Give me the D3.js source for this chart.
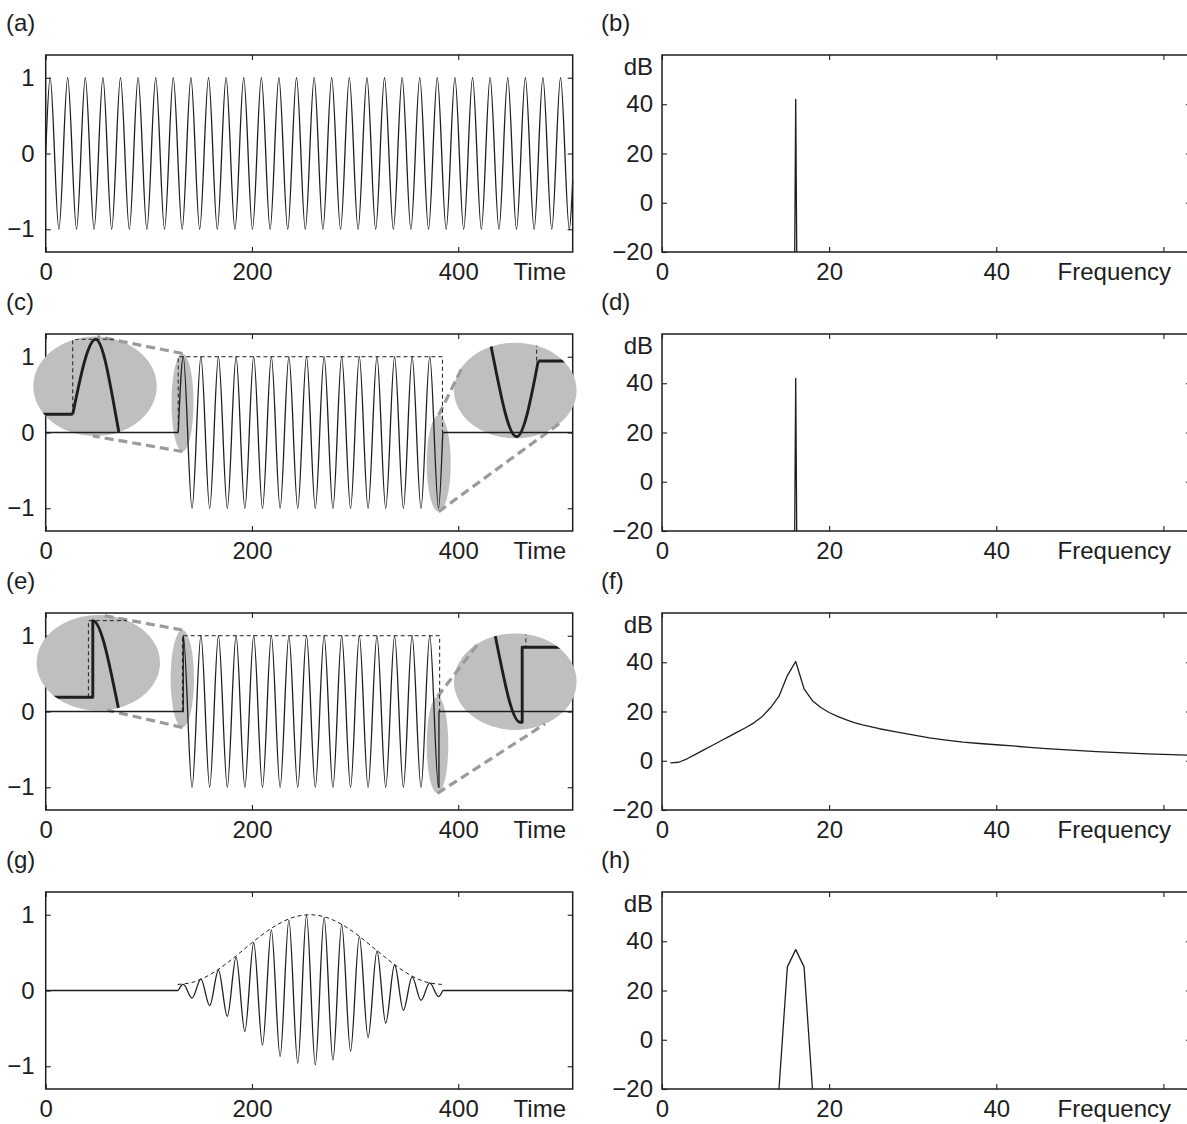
<!DOCTYPE html>
<html>
<head>
<meta charset="utf-8">
<script src="https://cdn.jsdelivr.net/npm/d3@7"></script>
<style>
  html, body { margin: 0; padding: 0; background: #fff; }
  svg { display: block; }
</style>
</head>
<body>
<svg id="fig" width="1187" height="1124"></svg>
<script>
// ---------- tick values and labels ----------
const timeTicks = [0, 200, 400];
const ampTicks = [-1, 0, 1];
const freqTicks = [0, 20, 40, 60];
const freqTickLabels = ["0", "20", "40", ""];
const dbTicks = [-20, 0, 20, 40];
const timeAxisLabel = "Time";
const freqAxisLabel = "Frequency";
const dbAxisLabel = "dB";
const timePanelLabels = ["(a)", "(c)", "(e)", "(g)"];
const freqPanelLabels = ["(b)", "(d)", "(f)", "(h)"];

// ---------- (a) steady sinusoid: extremum times and values ----------
const sineTimes = [0, 4.3, 12.8, 21.3, 29.9, 38.4, 46.9, 55.5, 64.0, 72.5, 81.1, 89.6, 98.1,
  106.7, 115.2, 123.7, 132.3, 140.8, 149.3, 157.9, 166.4, 174.9, 183.5, 192.0, 200.5, 209.1,
  217.6, 226.1, 234.7, 243.2, 251.7, 260.3, 268.8, 277.3, 285.9, 294.4, 302.9, 311.5, 320.0,
  328.5, 337.1, 345.6, 354.1, 362.7, 371.2, 379.7, 388.3, 396.8, 405.3, 413.9, 422.4, 430.9,
  439.5, 448.0, 456.5, 465.1, 473.6, 482.1, 490.7, 499.2, 507.7, 511];
const sineValues = [0, 1, -1, 1, -1, 1, -1, 1, -1, 1, -1, 1, -1, 1, -1, 1, -1, 1, -1, 1, -1,
  1, -1, 1, -1, 1, -1, 1, -1, 1, -1, 1, -1, 1, -1, 1, -1, 1, -1, 1, -1, 1, -1, 1, -1, 1, -1,
  1, -1, 1, -1, 1, -1, 1, -1, 1, -1, 1, -1, 1, -1, -0.36];

// ---------- (c), (e), (g) tone bursts: extremum times ----------
const burstTimes = [133.4, 141.9, 150.5, 159.0, 167.5, 176.1, 184.6, 193.1, 201.7, 210.2,
  218.8, 227.3, 235.8, 244.4, 252.9, 261.4, 270.0, 278.5, 287.0, 295.6, 304.1, 312.6, 321.2,
  329.7, 338.3, 346.8, 355.3, 363.9, 372.4, 380.9];
// rectangular window: full-height extrema
const burstRectValues = [1, -1, 1, -1, 1, -1, 1, -1, 1, -1, 1, -1, 1, -1, 1, -1, 1, -1, 1, -1,
  1, -1, 1, -1, 1, -1, 1, -1, 1, -1];
// Hamming window: tapered extrema
const burstHammingValues = [0.08, -0.10, 0.15, -0.20, 0.27, -0.34, 0.44, -0.54, 0.63, -0.72,
  0.80, -0.87, 0.93, -0.96, 0.99, -0.98, 0.96, -0.92, 0.87, -0.80, 0.71, -0.62, 0.52, -0.43,
  0.34, -0.26, 0.18, -0.13, 0.10, -0.08];
const burstStart = 128.5;     // (c), (g): burst starts at a zero crossing
const burstStop = 385.0;      // (c), (g): burst ends at a zero crossing
const truncStart = 133.4;     // (e): burst switched on at a crest
const truncStop = 381.3;      // (e): burst switched off just after a trough
const signalEnd = 511;

// window envelopes (dashed)
const rectEnvTimesC = [128.5, 128.5, 384.7, 384.7];
const rectEnvTimesE = [132.6, 132.6, 382.0, 382.0];
const rectEnvValues = [0, 1, 1, 0];
const hammingEnvTimes = [128, 144, 160, 176, 192, 208, 224, 240, 256, 272, 288, 304, 320, 336,
  352, 368, 384];
const hammingEnvValues = [0.08, 0.115, 0.215, 0.364, 0.54, 0.716, 0.865, 0.965, 1.0, 0.965,
  0.865, 0.716, 0.54, 0.364, 0.215, 0.115, 0.08];

// ---------- spectra (dB) ----------
const spikeFreqs = [15.88, 16.0, 16.12];
const spikeDb = [-20, 42, -20];
const leakFreqs = [1, 2, 3, 4, 5, 6, 7, 8, 9, 10, 11, 12, 13, 14, 15, 16, 17, 18, 19, 20, 21, 22,
  23, 24, 26, 28, 30, 32, 34, 36, 38, 40, 42, 44, 46, 48, 50, 52, 54, 56, 58, 60, 63];
const leakDb = [-0.9, -0.6, 0.8, 2.6, 4.4, 6.2, 8.0, 9.8, 11.6, 13.4, 15.4, 18.0, 21.6, 26.2,
  34.6, 40.3, 29.2, 24.4, 21.6, 19.6, 18.0, 16.7, 15.5, 14.6, 13.0, 11.7, 10.5, 9.3, 8.4, 7.6,
  7.0, 6.5, 6.0, 5.4, 4.9, 4.5, 4.1, 3.7, 3.4, 3.1, 2.8, 2.6, 2.3];
const hammingSpecFreqs = [14, 15, 16, 17, 18];
const hammingSpecDb = [-20, 29.6, 36.6, 29.6, -20];

// ---------- layout ----------
const FONT = "'Liberation Sans', Arial, Helvetica, sans-serif";
const FS = 24;
const INK = "#1e1e1e";
const frameH = 197;
const rowTops = [55, 334, 613, 892];
const timeRange = [45.7, 572.7];
const freqRange = [662, 1191];
const ellipseFill = "#bfbfbf";
const connectorColor = "#9b9b9b";

const svg = d3.select("#fig");
svg.append("rect").attr("width", 1187).attr("height", 1124).attr("fill", "#fff");

const zip = (a, b) => a.map((v, i) => [v, b[i]]);

function frame(g, x, y, top, xTicks, xFmt, yTicks, yPad) {
  const [x0, x1] = x.range();
  const bottom = top + frameH;
  const axes = [
    g.append("g").attr("transform", `translate(0,${bottom})`)
      .call(d3.axisBottom(x).tickValues(xTicks).tickSize(-5).tickPadding(11).tickFormat(xFmt)),
    g.append("g").attr("transform", `translate(0,${top})`)
      .call(d3.axisTop(x).tickValues(xTicks).tickSize(-5).tickFormat("")),
    g.append("g").attr("transform", `translate(${x0},0)`)
      .call(d3.axisLeft(y).tickValues(yTicks).tickSize(-5).tickPadding(yPad).tickFormat(d3.format("d"))),
    g.append("g").attr("transform", `translate(${x1},0)`)
      .call(d3.axisRight(y).tickValues(yTicks).tickSize(-5).tickFormat(""))
  ];
  axes.forEach(a => {
    a.attr("font-size", FS).attr("font-family", FONT).attr("color", INK);
    a.select(".domain").remove();
    a.selectAll(".tick line").attr("stroke-width", 1.1);
  });
  g.append("rect").attr("x", x0).attr("y", top).attr("width", x1 - x0).attr("height", frameH)
    .attr("fill", "none").attr("stroke", INK).attr("stroke-width", 1.5);
}

function addText(g, x, y, str, anchor) {
  return g.append("text").attr("x", x).attr("y", y).attr("text-anchor", anchor || "start")
    .attr("font-family", FONT).attr("font-size", FS).attr("fill", INK).text(str);
}

function drawLine(g, data, x, y, curve, width, dash) {
  const p = g.append("path")
    .attr("d", d3.line().x(d => x(d[0])).y(d => y(d[1])).curve(curve)(data))
    .attr("fill", "none").attr("stroke", INK).attr("stroke-width", width)
    .attr("stroke-linejoin", "round");
  if (dash) p.attr("stroke-dasharray", dash);
  return p;
}

function timePanel(row) {
  const top = rowTops[row];
  const x = d3.scaleLinear().domain([0, 511]).range(timeRange);
  const y = d3.scaleLinear().domain([-1.3, 1.3]).range([top + frameH, top]);
  const g = svg.append("g");
  frame(g, x, y, top, timeTicks, d3.format("d"), ampTicks, 11);
  addText(g, 566, top + frameH + 28, timeAxisLabel, "end");
  addText(g, 6, top - 24, timePanelLabels[row]);
  return { g, x, y, top };
}

function freqPanel(row, freqs, dbs) {
  const top = rowTops[row];
  const x = d3.scaleLinear().domain([0, 63.3]).range(freqRange);
  const y = d3.scaleLinear().domain([-20, 60]).range([top + frameH, top]);
  const g = svg.append("g");
  frame(g, x, y, top, freqTicks, (d, i) => freqTickLabels[i], dbTicks, 9);
  addText(g, 1171, top + frameH + 28, freqAxisLabel, "end");
  addText(g, 653, top + 12, dbAxisLabel, "end").attr("dy", "0.35em");
  addText(g, 601, top - 24, freqPanelLabels[row]);
  drawLine(g, zip(freqs, dbs), x, y, d3.curveLinear, 1.3);
}

// magnified views: small grey ellipse on the trace, large grey ellipse with the close-up
let clipCount = 0;
function ellipsePoint(e, deg) {
  const a = deg * Math.PI / 180;
  return [e.cx + e.rx * Math.cos(a), e.cy + e.ry * Math.sin(a)];
}
function insetBackground(P, spec) {
  const X = timeRange[0], Y = P.top;
  const s = { cx: X + spec.small.cx, cy: Y + spec.small.cy, rx: spec.small.rx, ry: spec.small.ry };
  const b = { cx: X + spec.big.cx, cy: Y + spec.big.cy, rx: spec.big.rx, ry: spec.big.ry };
  [s, b].forEach(e => P.g.append("ellipse").attr("cx", e.cx).attr("cy", e.cy)
    .attr("rx", e.rx).attr("ry", e.ry).attr("fill", ellipseFill));
  [[ellipsePoint(s, -90), ellipsePoint(b, spec.upper)],
   [ellipsePoint(s, 90), ellipsePoint(b, spec.lower)]].forEach(([p, q]) =>
    P.g.append("line").attr("x1", p[0]).attr("y1", p[1]).attr("x2", q[0]).attr("y2", q[1])
      .attr("stroke", connectorColor).attr("stroke-width", 3.2).attr("stroke-dasharray", "9,5"));
  return b;
}
function insetContent(P, spec, b, pieces, envelope) {
  const xi = d3.scaleLinear()
    .domain([spec.tRef - b.rx / spec.kx, spec.tRef + b.rx / spec.kx]).range([b.cx - b.rx, b.cx + b.rx]);
  const yi = d3.scaleLinear()
    .domain([spec.vRef - b.ry / spec.ky, spec.vRef + b.ry / spec.ky]).range([b.cy + b.ry, b.cy - b.ry]);
  const id = "clip" + (clipCount++);
  const cp = svg.append("defs").append("clipPath").attr("id", id);
  cp.append("ellipse").attr("cx", b.cx).attr("cy", b.cy).attr("rx", b.rx).attr("ry", b.ry);
  const outer = P.g.append("g").attr("clip-path", `url(#${id})`);
  let inner = outer;
  if (spec.window) {
    const wid = "clip" + (clipCount++);
    svg.append("defs").append("clipPath").attr("id", wid).append("rect")
      .attr("x", xi(spec.window[0])).attr("y", b.cy - b.ry - 5)
      .attr("width", xi(spec.window[1]) - xi(spec.window[0])).attr("height", 2 * b.ry + 10);
    inner = outer.append("g").attr("clip-path", `url(#${wid})`);
  }
  drawLine(inner, envelope, xi, yi, d3.curveLinear, 1, "4,3");
  pieces.forEach(([data, curve]) => drawLine(inner, data, xi, yi, curve, 2.9));
}

// ---------- (a) ----------
{
  const P = timePanel(0);
  drawLine(P.g, zip(sineTimes, sineValues), P.x, P.y, d3.curveMonotoneX, 1.3);
}

// ---------- (c) rectangular window, zero-crossing edges ----------
{
  const P = timePanel(1);
  const specs = [
    { small: { cx: 136.8, cy: 68.5, rx: 11, ry: 49 }, big: { cx: 49.3, cy: 52.3, rx: 61.7, ry: 49.7 },
      tRef: 133.25, kx: 4.69, vRef: 0.373, ky: 75, window: [118, 138.6], upper: -88, lower: 92 },
    { small: { cx: 393, cy: 129.3, rx: 12, ry: 48.3 }, big: { cx: 469.6, cy: 56.5, rx: 61.3, ry: 47.8 },
      tRef: 380.67, kx: 5.3, vRef: -0.39, ky: 75.7, window: null, upper: -148, lower: 42 }
  ];
  const bigs = specs.map(s => insetBackground(P, s));
  const pieces = [
    [[[0, 0], [burstStart, 0]], d3.curveLinear],
    [[[burstStart, 0], ...zip(burstTimes, burstRectValues), [burstStop, 0]], d3.curveMonotoneX],
    [[[burstStop, 0], [signalEnd, 0]], d3.curveLinear]
  ];
  const env = zip(rectEnvTimesC, rectEnvValues);
  drawLine(P.g, env, P.x, P.y, d3.curveLinear, 1, "4,3");
  pieces.forEach(([d, c]) => drawLine(P.g, d, P.x, P.y, c, 1.3));
  specs.forEach((s, i) => insetContent(P, s, bigs[i], pieces, env));
}

// ---------- (e) rectangular window, abrupt edges ----------
{
  const P = timePanel(2);
  const specs = [
    { small: { cx: 136.6, cy: 65.7, rx: 11.7, ry: 48.7 }, big: { cx: 52.6, cy: 49.8, rx: 61.7, ry: 47.8 },
      tRef: 134.4, kx: 5.5, vRef: 0.45, ky: 76.6, window: null, upper: -88, lower: 82 },
    { small: { cx: 391.8, cy: 132, rx: 10.8, ry: 48.3 }, big: { cx: 469.6, cy: 68.7, rx: 61.3, ry: 48.3 },
      tRef: 380.0, kx: 5.3, vRef: -0.46, ky: 75, window: null, upper: -127, lower: 61 }
  ];
  const bigs = specs.map(s => insetBackground(P, s));
  const trace = [[0, 0], [truncStart, 0], ...zip(burstTimes, burstRectValues),
    [truncStop, -1], [truncStop, 0], [signalEnd, 0]];
  const pieces = [[trace, d3.curveMonotoneX]];
  const env = zip(rectEnvTimesE, rectEnvValues);
  drawLine(P.g, env, P.x, P.y, d3.curveLinear, 1, "4,3");
  pieces.forEach(([d, c]) => drawLine(P.g, d, P.x, P.y, c, 1.3));
  specs.forEach((s, i) => insetContent(P, s, bigs[i], pieces, env));
}

// ---------- (g) Hamming window ----------
{
  const P = timePanel(3);
  drawLine(P.g, zip(hammingEnvTimes, hammingEnvValues), P.x, P.y, d3.curveMonotoneX, 1, "4,3");
  drawLine(P.g, [[0, 0], [burstStart, 0]], P.x, P.y, d3.curveLinear, 1.3);
  drawLine(P.g, [[burstStart, 0], ...zip(burstTimes, burstHammingValues), [burstStop, 0]],
    P.x, P.y, d3.curveMonotoneX, 1.3);
  drawLine(P.g, [[burstStop, 0], [signalEnd, 0]], P.x, P.y, d3.curveLinear, 1.3);
}

// ---------- spectra ----------
freqPanel(0, spikeFreqs, spikeDb);
freqPanel(1, spikeFreqs, spikeDb);
freqPanel(2, leakFreqs, leakDb);
freqPanel(3, hammingSpecFreqs, hammingSpecDb);
</script>
</body>
</html>
